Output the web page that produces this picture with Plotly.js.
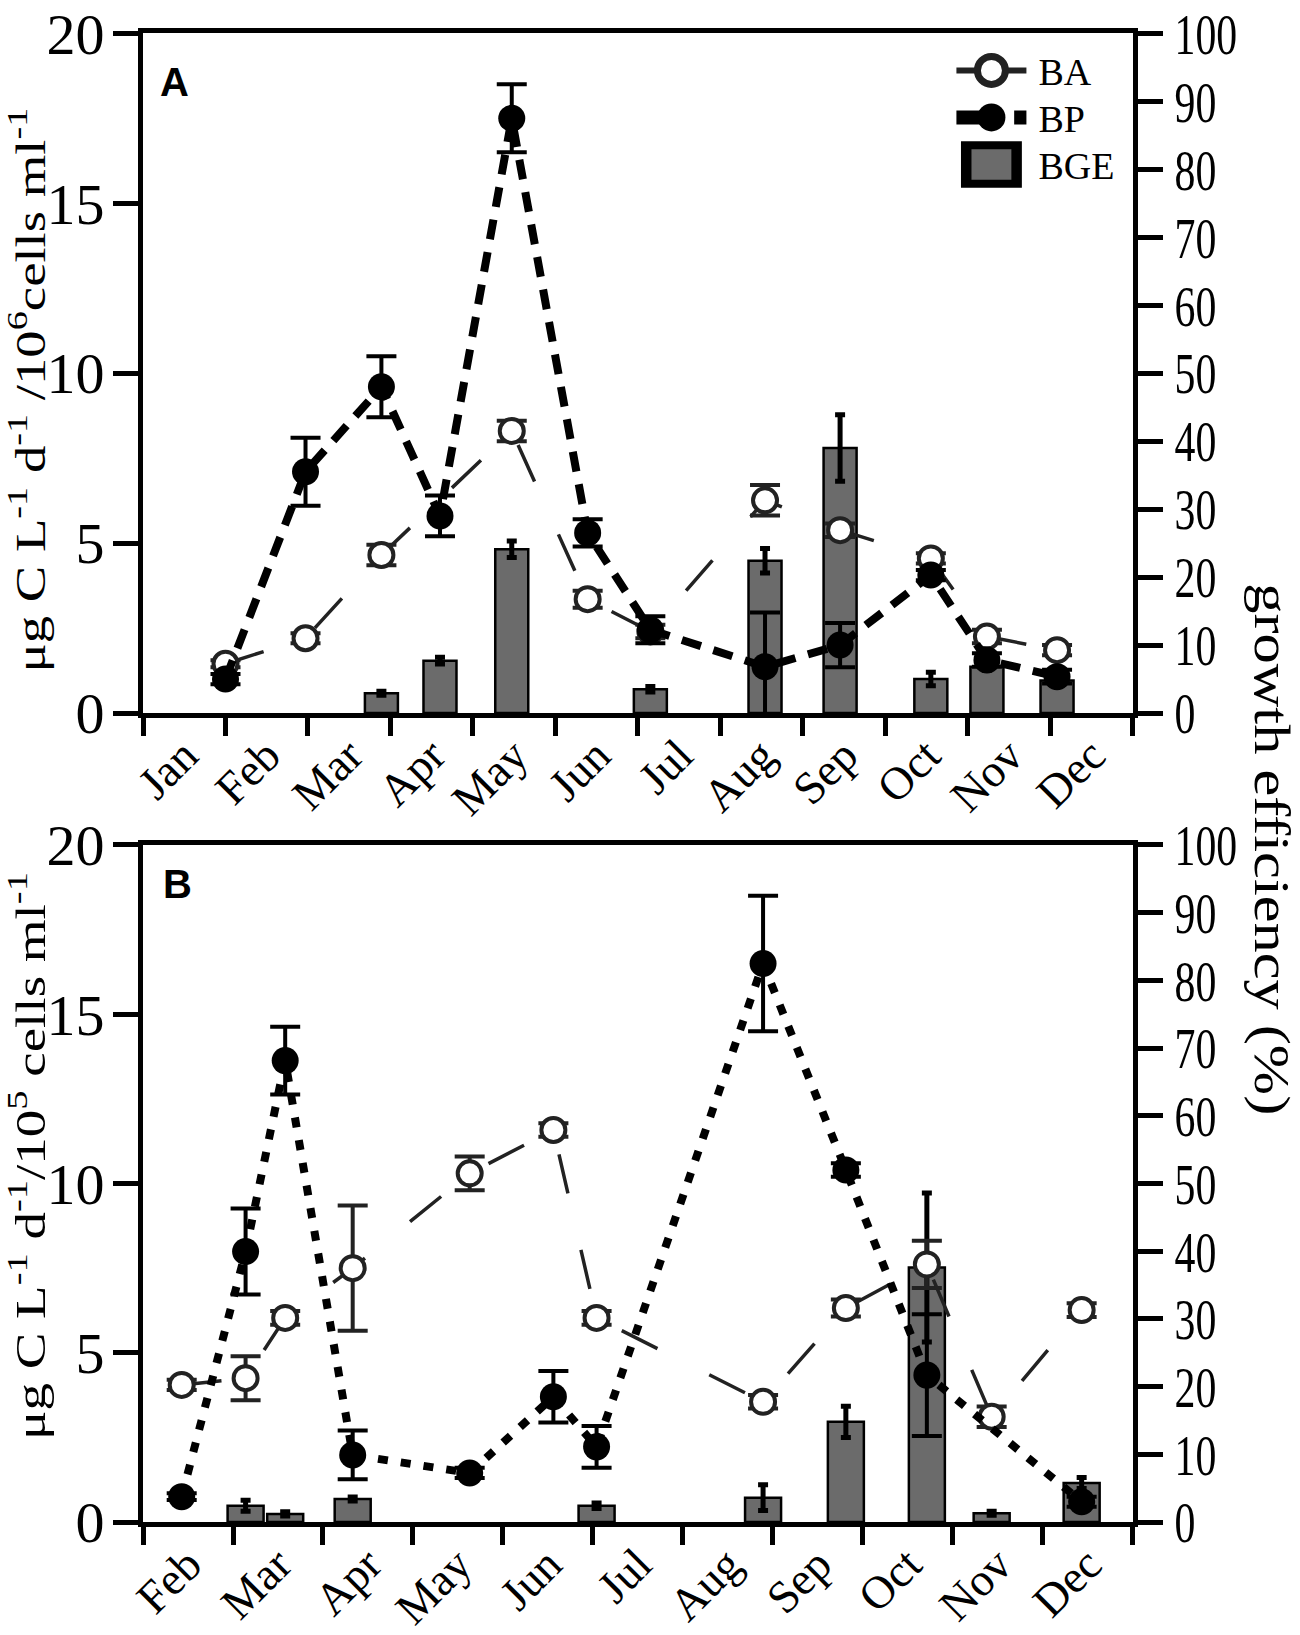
<!DOCTYPE html>
<html>
<head>
<meta charset="utf-8">
<script src="https://cdn.plot.ly/plotly-3.0.1.min.js"></script>
<style>
  body { margin: 0; background: #fff; }
  #chart { width: 1300px; height: 1635px; }
</style>
</head>
<body>
<div id="chart"></div>
<script>
// panel A: sampling dates in months from 1 Jan
const datesA = [1.0, 1.97, 2.89, 3.6, 4.47, 5.39, 6.15, 7.54, 8.45, 9.55, 10.23, 11.08];
const baA = [1.45, 2.2, 4.65, null, 8.3, 3.35, 2.4, 6.26, 5.38, 4.55, 2.25, 1.85];
const baErrA = [0.1, 0.15, 0.3, 0, 0.3, 0.25, 0.2, 0.45, 0.2, 0.15, 0.2, 0.15];
const bpA = [1.0, 7.1, 9.6, 5.8, 17.5, 5.3, 2.45, 1.36, 2.0, 4.06, 1.56, 1.07];
const bpErrA = [0.15, 1.0, 0.9, 0.6, 1.0, 0.4, 0.4, 1.6, 0.65, 0.15, 0.2, 0.2];
const bgeA = [null, null, 2.9, 7.7, 24.1, null, 3.5, 22.4, 39.0, 5.0, 6.8, 4.8];
const bgeErrA = [0, 0, 0.3, 0.5, 1.2, 0, 0.4, 1.8, 4.9, 1.0, 0.5, 0.5];
const monthsA = ["Jan", "Feb", "Mar", "Apr", "May", "Jun", "Jul", "Aug", "Sep", "Oct", "Nov", "Dec"];

// panel B: sampling dates in months from 1 Feb
const datesB = [0.43, 1.14, 1.58, 2.33, 3.63, 4.56, 5.04, 6.89, 7.81, 8.71, 9.43, 10.43];
const baB = [4.05, 4.25, 6.03, 7.5, 10.3, 11.58, 6.03, 3.55, 6.32, 7.61, 3.11, 6.26];
const baErrB = [0.15, 0.65, 0.2, 1.85, 0.5, 0.2, 0.2, 0.2, 0.25, 0.7, 0.3, 0.2];
const bpB = [0.75, 7.99, 13.63, 1.98, 1.45, 3.7, 2.22, 16.5, 10.4, 4.34, null, 0.6];
const bpErrB = [0.1, 1.27, 1.0, 0.72, 0.15, 0.76, 0.62, 2.0, 0.2, 1.8, 0, 0.15];
const bgeB = [null, 2.4, 1.2, 3.4, null, null, 2.4, 3.6, 14.8, 37.6, 1.3, 5.76];
const bgeErrB = [0, 0.8, 0.3, 0.3, 0, 0, 0.4, 1.9, 2.3, 11, 0.3, 0.8];
const monthsB = ["Feb", "Mar", "Apr", "May", "Jun", "Jul", "Aug", "Sep", "Oct", "Nov", "Dec"];

const serif = "Liberation Serif, Times New Roman, serif";
const sans = "Liberation Sans, Arial, sans-serif";
const halves = n => Array.from({ length: n }, (_, i) => i + 0.5);
const edges = n => Array.from({ length: n + 1 }, (_, i) => i);

function baTrace(x, y, err, xa, ya, show) {
  return {
    x: x, y: y, xaxis: xa, yaxis: ya, name: "BA", showlegend: show,
    type: "scatter", mode: "lines+markers", connectgaps: true,
    line: { color: "#222", width: 3.5, dash: "40px,58px" },
    marker: { symbol: "circle", size: 24, color: "#fff", line: { color: "#222", width: 4 } },
    error_y: { type: "data", array: err, color: "#222", thickness: 4, width: 15 },
  };
}
function bpTrace(x, y, err, xa, ya, show, dash) {
  return {
    x: x, y: y, xaxis: xa, yaxis: ya, name: "BP", showlegend: show,
    type: "scatter", mode: "lines+markers", connectgaps: true,
    line: { color: "#000", width: 8, dash: dash },
    marker: { symbol: "circle", size: 27, color: "#000" },
    error_y: { type: "data", array: err, color: "#000", thickness: 4, width: 15 },
  };
}
function bgeTrace(x, y, err, xa, ya, show) {
  return {
    x: x, y: y, xaxis: xa, yaxis: ya, name: "BGE", showlegend: show,
    type: "bar", width: 0.4,
    marker: { color: "#6b6b6b", line: { color: "#000", width: 2.5 } },
    error_y: { type: "data", array: err, color: "#000", thickness: 5, width: 5 },
  };
}

const data = [
  baTrace(datesA, baA, baErrA, "x", "y2", true),
  bpTrace(datesA, bpA, bpErrA, "x", "y2", true, "20px,13px"),
  bgeTrace(datesA, bgeA, bgeErrA, "x", "y", true),
  baTrace(datesB, baB, baErrB, "x2", "y4", false),
  bpTrace(datesB, bpB, bpErrB, "x2", "y4", false, "10px,13px"),
  bgeTrace(datesB, bgeB, bgeErrB, "x2", "y3", false),
];

const tickFont = { family: serif, size: 58, color: "#000" };

function monthAxis(labels, anchor) {
  return {
    domain: [0.11, 0.8715], anchor: anchor, range: [0, labels.length],
    showline: true, linewidth: 5, linecolor: "#000", mirror: true,
    showgrid: false, zeroline: false,
    tickmode: "array", tickvals: halves(labels.length), ticktext: labels,
    ticks: "", tickangle: -45, ticklabelstandoff: -8,
    tickfont: { family: serif, size: 46, color: "#000" },
    minor: { tickmode: "array", tickvals: edges(labels.length), ticks: "outside",
             ticklen: 18, tickwidth: 5, tickcolor: "#000", showgrid: false },
  };
}
function pctAxis(domain, anchor) {
  return {
    domain: domain, anchor: anchor, side: "right", range: [0, 100],
    tickmode: "linear", tick0: 0, dtick: 10,
    showline: true, linewidth: 5, linecolor: "#000",
    ticks: "outside", ticklen: 25, tickwidth: 5, tickcolor: "#000",
    showgrid: false, zeroline: false, tickfont: tickFont,
  };
}
function rateAxis(over, anchor) {
  return {
    overlaying: over, anchor: anchor, side: "left", range: [0, 20],
    tickmode: "linear", tick0: 0, dtick: 5,
    showline: true, linewidth: 5, linecolor: "#000",
    ticks: "outside", ticklen: 25, tickwidth: 5, tickcolor: "#000",
    ticklabelstandoff: -3,
    showgrid: false, zeroline: false, tickfont: tickFont,
  };
}

function note(text, px, py, size, angle, family) {
  return {
    text: text, xref: "paper", yref: "paper", x: px / 1300, y: 1 - py / 1635,
    xanchor: "center", yanchor: "middle", textangle: angle, showarrow: false,
    font: { family: family || serif, size: size, color: "#000" },
  };
}

const layout = {
  width: 1300, height: 1635,
  margin: { l: 0, r: 0, t: 0, b: 0 },
  paper_bgcolor: "#fff", plot_bgcolor: "rgba(0,0,0,0)",
  barmode: "overlay", font: { family: serif, color: "#000" },
  xaxis: monthAxis(monthsA, "y"),
  yaxis: pctAxis([0.5639, 0.9796], "x"),
  yaxis2: rateAxis("y", "x"),
  xaxis2: monthAxis(monthsB, "y3"),
  yaxis3: pctAxis([0.0691, 0.4832], "x2"),
  yaxis4: rateAxis("y3", "x2"),
  legend: {
    x: 0.7434, y: 0.976, xanchor: "left", yanchor: "top",
    font: { family: serif, size: 38, color: "#000" },
    bgcolor: "rgba(0,0,0,0)", itemwidth: 40, traceorder: "normal",
  },
  annotations: [
    note("<b>A</b>", 174, 82, 40, 0, sans),
    note("<b>B</b>", 177, 884, 40, 0, sans),
    note("μg C L<sup>-1</sup> d<sup>-1</sup> /10<sup>6</sup>cells ml<sup>-1</sup>", 27, 390, 42, -90),
    note("μg C L<sup>-1</sup> d<sup>-1</sup>/10<sup>5</sup> cells ml<sup>-1</sup>", 27, 1156, 42, -90),
    note("growth efficiency (%)", 1272, 849, 50, 90),
  ],
};

Plotly.newPlot("chart", data, layout, { staticPlot: true }).then(gd => {
  // the figure's lettering is a tall, narrow face: condense tick numbers
  // and stretch the rotated titles along their length
  gd.querySelectorAll(".yaxislayer-above text").forEach(t => {
    const len = t.getComputedTextLength();
    if (len > 0) {
      t.setAttribute("textLength", (len * 0.72).toFixed(1));
      t.setAttribute("lengthAdjust", "spacingAndGlyphs");
    }
  });
  const titleLength = { 2: 565, 3: 568, 4: 532 };
  gd.querySelectorAll(".annotation-text").forEach((t, i) => {
    if (titleLength[i]) {
      t.setAttribute("textLength", titleLength[i]);
      t.setAttribute("lengthAdjust", "spacingAndGlyphs");
    }
  });
  // enlarge the legend keys and tighten the rows, as in the figure
  gd.querySelectorAll(".legend [clip-path]").forEach(el => el.removeAttribute("clip-path"));
  const keyScale = [[1.75, 1.75], [1.75, 1.75], [4.2, 3.2]];
  let y0 = null;
  gd.querySelectorAll(".legend .traces").forEach((g, i) => {
    const m = /translate\(\s*([-\d.]+)[ ,]+([-\d.]+)/.exec(g.getAttribute("transform") || "");
    if (m) {
      if (y0 === null) y0 = +m[2];
      g.setAttribute("transform", `translate(${m[1]},${y0 + i * 47})`);
    }
    const layers = g.querySelector(".layers");
    const b = layers.getBBox();
    const cx = b.x + b.width / 2, cy = b.y + b.height / 2;
    const s = keyScale[i] || [1, 1];
    layers.setAttribute("transform",
      `translate(${cx},${cy}) scale(${s[0]},${s[1]}) translate(${-cx},${-cy})`);
    const txt = g.querySelector(".legendtext");
    txt.setAttribute("x", +txt.getAttribute("x") + 22);
  });
});
</script>
</body>
</html>
